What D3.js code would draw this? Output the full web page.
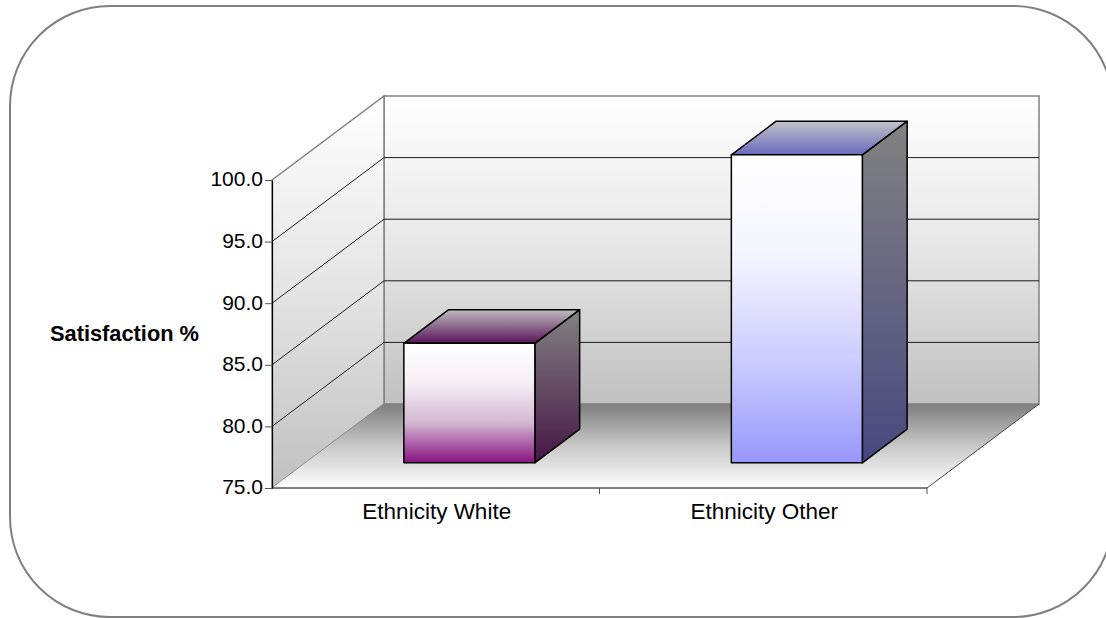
<!DOCTYPE html>
<html>
<head>
<meta charset="utf-8">
<script src="https://cdn.jsdelivr.net/npm/d3@7"></script>
<style>
  body { margin: 0; background: #fff; }
  svg { display: block; }
  text { font-family: "Liberation Sans", Arial, sans-serif; fill: #000; }
</style>
</head>
<body>
<div id="chart"></div>
<script>
// chart data
var categories = ["Ethnicity White", "Ethnicity Other"];
var values = [84.7, 100.0];
var yTicks = [75, 80, 85, 90, 95, 100];
var yTitle = "Satisfaction %";

var width = 1106, height = 618;

// front plane of the 3d box, and the depth offset of the back wall
var plot = { left: 272, right: 927, top: 180, bottom: 488 };
var depth = { dx: 112, dy: -84 };
var barDepth = [0.3, 0.7];   // bars sit in the middle of the floor

// colours for each bar: front face stops, top face (back -> front), side face (top -> bottom)
var barStyles = [
  { front: ["#ffffff", "#f6eef6", "#d2b6d1", "#86127f"], top: ["#bdbdbd", "#5a1459"], side: ["#828282", "#471646"] },
  { front: ["#ffffff", "#f4f4ff", "#ccccff", "#9797fb"], top: ["#c2c2c6", "#6a6abd"], side: ["#828282", "#484880"] }
];

var svg = d3.select("#chart").append("svg")
  .attr("width", width)
  .attr("height", height);

var defs = svg.append("defs");

// helper to add a vertical gradient
function vGrad(id, stops) {
  var g = defs.append("linearGradient")
    .attr("id", id)
    .attr("x1", 0).attr("y1", 0).attr("x2", 0).attr("y2", 1);
  stops.forEach(function (c, i) {
    g.append("stop")
      .attr("offset", i / (stops.length - 1))
      .attr("stop-color", c);
  });
}

vGrad("backWall", ["#ffffff", "#e6e6e6", "#c0c0c0"]);
vGrad("sideWall", ["#ffffff", "#e4e4e4", "#c0c0c0"]);
vGrad("floor", ["#7e7e7e", "#c8c8c8", "#ffffff"]);

// outer rounded frame
svg.append("rect")
  .attr("x", 10)
  .attr("y", 6)
  .attr("width", 1103)
  .attr("height", 611)
  .attr("rx", 100)
  .attr("ry", 100)
  .attr("fill", "#fff")
  .attr("stroke", "#808080")
  .attr("stroke-width", 2);

// scales
var y = d3.scaleLinear().domain([75, 100]).range([plot.bottom, plot.top]);
var x = d3.scaleBand()
  .domain(categories)
  .range([plot.left, plot.right])
  .paddingInner(0.6)
  .paddingOuter(0.3);
var xEdge = d3.scaleLinear().domain([0, categories.length]).range([plot.left, plot.right]);

// project a front-plane point to depth z (0 = front, 1 = back)
function proj(px, py, z) {
  return [px + z * depth.dx, py + z * depth.dy];
}
var line = d3.line();

var yMin = y.domain()[0], yMax = y.domain()[1];

// back wall
var bw = [proj(plot.left, y(yMax), 1), proj(plot.right, y(yMax), 1),
          proj(plot.right, y(yMin), 1), proj(plot.left, y(yMin), 1)];
svg.append("path")
  .attr("d", line(bw) + "Z")
  .attr("fill", "url(#backWall)")
  .attr("stroke", "#808080")
  .attr("stroke-width", 1.5);

// side wall
var sw = [[plot.left, y(yMax)], proj(plot.left, y(yMax), 1),
          proj(plot.left, y(yMin), 1), [plot.left, y(yMin)]];
svg.append("path")
  .attr("d", line(sw) + "Z")
  .attr("fill", "url(#sideWall)")
  .attr("stroke", "#808080")
  .attr("stroke-width", 1.5);

// floor
var fl = [[plot.left, y(yMin)], proj(plot.left, y(yMin), 1),
          proj(plot.right, y(yMin), 1), [plot.right, y(yMin)]];
svg.append("path")
  .attr("d", line(fl) + "Z")
  .attr("fill", "url(#floor)");

// floor right edge
svg.append("path")
  .attr("d", line([[plot.right, y(yMin)], proj(plot.right, y(yMin), 1)]))
  .attr("stroke", "#444")
  .attr("stroke-width", 1)
  .attr("fill", "none");

// gridlines on side and back walls
var gridTicks = yTicks.filter(function (t) { return t > yMin && t < yMax; });
svg.append("g").selectAll("path")
  .data(gridTicks)
  .enter().append("path")
  .attr("d", function (t) {
    return line([[plot.left, y(t)], proj(plot.left, y(t), 1), proj(plot.right, y(t), 1)]);
  })
  .attr("fill", "none")
  .attr("stroke", "#1a1a1a")
  .attr("stroke-width", 1);

// bars
var bars = svg.append("g").selectAll("g")
  .data(categories.map(function (c, i) { return { cat: c, val: values[i], i: i }; }))
  .enter().append("g");

bars.each(function (d) {
  var g = d3.select(this);
  var st = barStyles[d.i];
  vGrad("barFront" + d.i, st.front);
  vGrad("barTop" + d.i, st.top);
  vGrad("barSide" + d.i, st.side);

  var x0 = x(d.cat), x1 = x(d.cat) + x.bandwidth();
  var yt = y(d.val), yb = y(yMin);
  var z0 = barDepth[0], z1 = barDepth[1];

  var front = [proj(x0, yt, z0), proj(x1, yt, z0), proj(x1, yb, z0), proj(x0, yb, z0)];
  var top = [proj(x0, yt, z0), proj(x1, yt, z0), proj(x1, yt, z1), proj(x0, yt, z1)];
  var side = [proj(x1, yt, z0), proj(x1, yt, z1), proj(x1, yb, z1), proj(x1, yb, z0)];

  g.append("path").attr("d", line(side) + "Z")
    .attr("fill", "url(#barSide" + d.i + ")")
    .attr("stroke", "#000").attr("stroke-width", 1.5).attr("stroke-linejoin", "round");
  g.append("path").attr("d", line(top) + "Z")
    .attr("fill", "url(#barTop" + d.i + ")")
    .attr("stroke", "#000").attr("stroke-width", 1.5).attr("stroke-linejoin", "round");
  g.append("path").attr("d", line(front) + "Z")
    .attr("fill", "url(#barFront" + d.i + ")")
    .attr("stroke", "#000").attr("stroke-width", 1.5).attr("stroke-linejoin", "round");
});

// y axis
var yAxis = svg.append("g")
  .attr("transform", "translate(" + plot.left + ",0)")
  .call(d3.axisLeft(y)
    .tickValues(yTicks)
    .tickFormat(d3.format(".1f"))
    .tickSize(7)
    .tickSizeOuter(0)
    .tickPadding(2));
yAxis.select(".domain").attr("stroke", "#000").attr("stroke-width", 1.2);
yAxis.selectAll(".tick line").attr("stroke", "#555");
yAxis.selectAll(".tick text")
  .attr("font-family", "Liberation Sans, Arial, sans-serif")
  .attr("font-size", 21)
  .attr("dy", "0.28em")
  .attr("fill", "#000");

// x axis: front edge of the floor, ticks at category boundaries
svg.append("path")
  .attr("d", line([[plot.left, y(yMin)], [plot.right, y(yMin)]]))
  .attr("stroke", "#000")
  .attr("stroke-width", 1.2);

svg.append("g").selectAll("line")
  .data(d3.range(1, categories.length + 1))
  .enter().append("line")
  .attr("x1", function (i) { return xEdge(i); })
  .attr("x2", function (i) { return xEdge(i); })
  .attr("y1", y(yMin))
  .attr("y2", y(yMin) + 6)
  .attr("stroke", "#555");

svg.append("g").selectAll("text")
  .data(categories)
  .enter().append("text")
  .attr("x", function (c) { return x(c) + x.bandwidth() / 2 + 1; })
  .attr("y", 519)
  .attr("text-anchor", "middle")
  .attr("font-size", 22.5)
  .text(function (c) { return c; });

// y axis title
svg.append("text")
  .attr("x", 50)
  .attr("y", 341)
  .attr("font-size", 21.8)
  .attr("font-weight", "bold")
  .text(yTitle);
</script>
</body>
</html>
